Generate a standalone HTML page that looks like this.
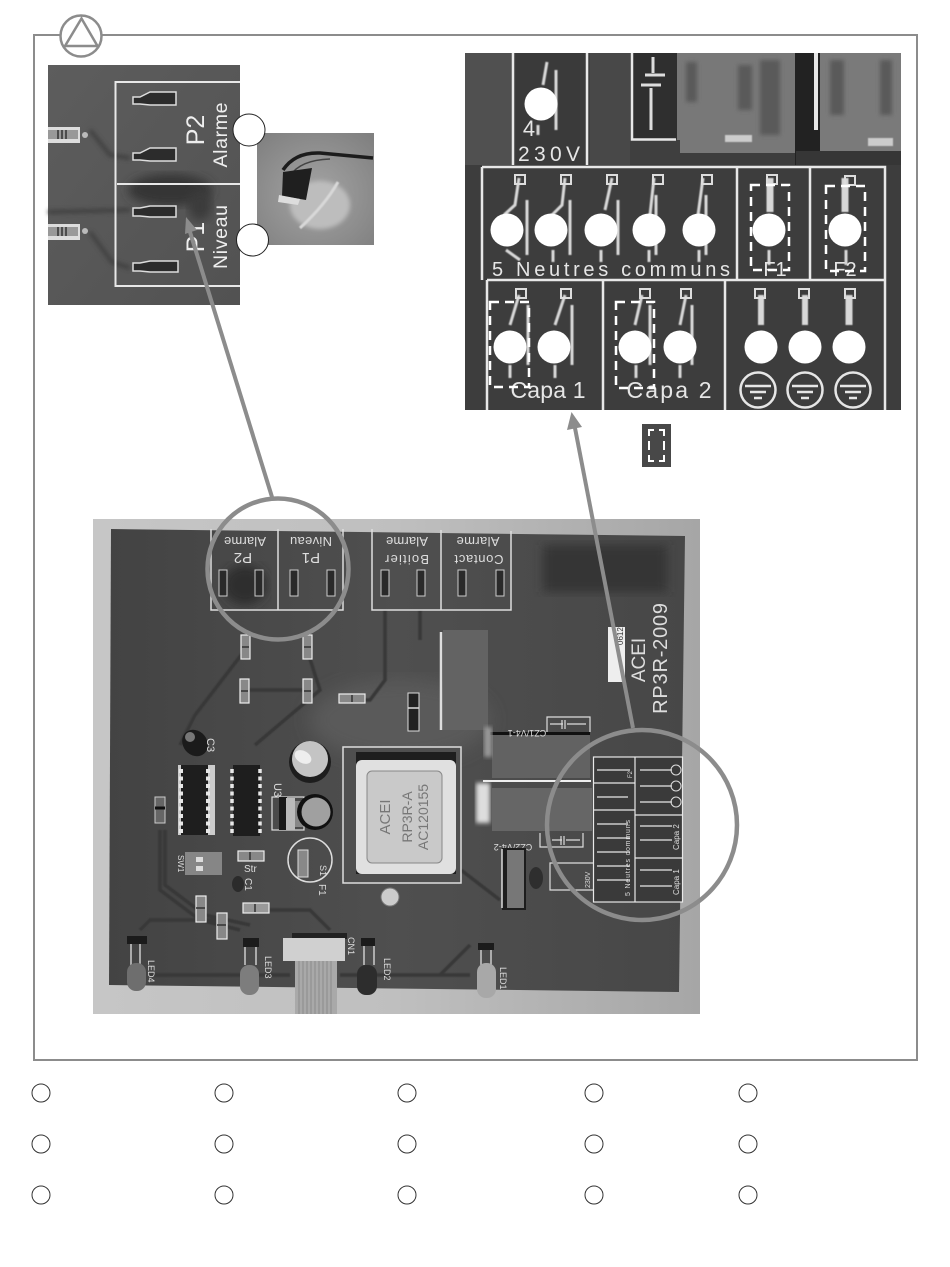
<!DOCTYPE html>
<html>
<head>
<meta charset="utf-8">
<style>
html,body{margin:0;padding:0;background:#fff}
svg{display:block}
text{font-family:"Liberation Sans",sans-serif}
</style>
</head>
<body>
<svg xmlns="http://www.w3.org/2000/svg" width="950" height="1267" viewBox="0 0 950 1267">
<defs>
<filter id="b2"><feGaussianBlur stdDeviation="2"/></filter>
<filter id="b1"><feGaussianBlur stdDeviation="0.6"/></filter>
<filter id="b5"><feGaussianBlur stdDeviation="5"/></filter>
<filter id="b9"><feGaussianBlur stdDeviation="9"/></filter>
<linearGradient id="tl" x1="0" y1="0" x2="1" y2="1"><stop offset="0" stop-color="#5d5d5d"/><stop offset="1" stop-color="#525252"/></linearGradient>
<linearGradient id="sur" x1="0" y1="0" x2="1" y2="0"><stop offset="0" stop-color="#c6c6c6"/><stop offset=".5" stop-color="#bfbfbf"/><stop offset="1" stop-color="#a6a6a6"/></linearGradient>
<linearGradient id="pcb" x1="0" y1="0" x2="1" y2="0"><stop offset="0" stop-color="#434343"/><stop offset=".5" stop-color="#4f4f4f"/><stop offset="1" stop-color="#474747"/></linearGradient>
<radialGradient id="sm" cx=".5" cy=".55" r=".7"><stop offset="0" stop-color="#a4a4a4"/><stop offset="1" stop-color="#808080"/></radialGradient>
</defs>

<!-- frame -->
<rect x="34" y="35" width="883" height="1025" fill="#fff" stroke="#8c8c8c" stroke-width="2"/>
<circle cx="81" cy="36" r="20.500" fill="#fff" stroke="#8c8c8c" stroke-width="2.500"/>
<path d="M81.500 18.500 L97.500 46 L65 46 Z" fill="none" stroke="#8c8c8c" stroke-width="2.500"/>

<!-- top-left photo -->
<rect x="48" y="65" width="192" height="240" fill="url(#tl)"/>
<g filter="url(#b2)" fill="none" stroke="#3f3f3f" stroke-width="4">
<path d="M90 130 L110 155 L130 158"/><path d="M90 232 L112 262 L130 268"/><path d="M48 212 L130 210"/>
</g>
<ellipse cx="170" cy="190" rx="42" ry="16" fill="#343434" filter="url(#b5)"/>
<ellipse cx="200" cy="205" rx="12" ry="16" fill="#3a3a3a" filter="url(#b5)"/>
<g fill="none" stroke="#e8e8e8" stroke-width="2">
<path d="M240 82 H115.500 V286 H240"/><path d="M117 184 H240"/>
</g>
<g fill="#eee" text-anchor="middle">
<text transform="translate(204,130) rotate(-90)" font-size="25">P2</text>
<text transform="translate(227,135) rotate(-90)" font-size="19.500" textLength="65" lengthAdjust="spacing">Alarme</text>
<text transform="translate(204,237) rotate(-90)" font-size="25">P1</text>
<text transform="translate(227,237) rotate(-90)" font-size="19.500" textLength="64" lengthAdjust="spacing">Niveau</text>
</g>
<g fill="#2c2c2c" stroke="#ddd" stroke-width="1.500">
<path d="M133 97 H140 L150 92 H176 V105 H150 L140 104 H133Z"/>
<path d="M133 153 H140 L150 148 H176 V161 H150 L140 160 H133Z"/>
<path d="M133 208 H140 L150 206 H176 V217 H150 L140 216 H133Z"/>
<path d="M133 263 H140 L150 261 H178 V272 H150 L140 271 H133Z"/>
</g>
<g>
<rect x="48" y="127" width="32" height="16" fill="#ddd"/><rect x="48" y="130" width="30" height="9" fill="#999"/>
<path d="M58 130v9M62 130v9M66 130v9" stroke="#333" stroke-width="1.500"/>
<circle cx="85" cy="135" r="3" fill="#bbb"/>
<rect x="48" y="224" width="32" height="16" fill="#ddd"/><rect x="48" y="227" width="30" height="9" fill="#999"/>
<path d="M58 227v9M62 227v9M66 227v9" stroke="#333" stroke-width="1.500"/>
<circle cx="85" cy="231" r="3" fill="#bbb"/>
</g>

<!-- small photo -->
<rect x="257" y="133" width="117" height="112" fill="url(#sm)"/>
<path d="M283 170 Q295 152 320 153 L373 158" fill="none" stroke="#1c1c1c" stroke-width="3.500"/>
<path d="M290 176 Q300 160 330 159" fill="none" stroke="#444" stroke-width="1.500"/>
<ellipse cx="320" cy="205" rx="30" ry="24" fill="#bdbdbd" filter="url(#b2)"/>
<path d="M300 228 Q325 205 338 182" stroke="#d8d8d8" stroke-width="3" fill="none" filter="url(#b1)"/>
<path d="M283 172 L312 168 L306 200 L282 196Z" fill="#1f1f1f"/>
<path d="M279 195 L300 199 L298 205 L278 202Z" fill="#ddd"/>
<circle cx="249" cy="130" r="16" fill="#fff" stroke="#222" stroke-width="1"/>
<circle cx="252.500" cy="240" r="16" fill="#fff" stroke="#222" stroke-width="1"/>

<!-- top-right photo -->
<rect x="465" y="53" width="436" height="357" fill="#3d3d3d"/>
<rect x="465" y="53" width="48" height="112" fill="#505050"/>
<rect x="516" y="53" width="70" height="112" fill="#3a3a3a"/>
<rect x="590" y="53" width="40" height="112" fill="#484848"/>
<rect x="632" y="53" width="46" height="86" fill="#2f2f2f"/>
<rect x="677" y="53" width="118" height="100" fill="#787878"/>
<rect x="795" y="53" width="25" height="112" fill="#222"/>
<rect x="820" y="53" width="81" height="98" fill="#7a7a7a"/>
<rect x="630" y="140" width="50" height="24" fill="#3f3f3f"/>
<rect x="796" y="151" width="105" height="14" fill="#363636"/>
<g fill="#5a5a5a" filter="url(#b2)">
<rect x="686" y="62" width="11" height="40"/><rect x="738" y="65" width="14" height="45"/><rect x="760" y="60" width="20" height="75"/>
<rect x="830" y="60" width="14" height="55"/><rect x="880" y="60" width="12" height="55"/>
</g>
<g fill="#ccc" filter="url(#b1)"><rect x="725" y="135" width="27" height="7"/><rect x="868" y="138" width="25" height="8"/></g>
<g fill="none" stroke="#e8e8e8" stroke-width="2.500">
<path d="M513 53V165M587 53V165"/>
<path d="M632 53V139.500H676"/>
<path d="M816 53V130" stroke-width="4"/>
<path d="M482 167H885V410M482 167V280M487 280H885M487 280V410"/>
<path d="M737 167V280M810 167V280M603 280V410M725 280V410"/>
</g>
<g stroke="#ddd" stroke-width="3" fill="none">
<path d="M645 75H665M641 85H661M653 57V73M651 88V130"/>
</g>
<g stroke="#d8d8d8" stroke-width="3" fill="none" filter="url(#b1)">
<path d="M547 62 L543 85 M538 125 V135 M556 130V70"/>
<path d="M519 178 L515 205 L504 215 M527 200 V255 M506 250 L520 260"/>
<path d="M565 178 L562 205 L552 215 M570 200 V255 M553 250V262"/>
<path d="M612 178 L605 210 M618 200 V255 M601 250V262"/>
<path d="M654 178 L650 215 M656 195 V255 M649 250V262"/>
<path d="M703 178 L698 215 M706 195 V255 M699 250V262"/>
<path d="M770 178 V212" stroke-width="7"/><path d="M845 178 V212" stroke-width="7"/>
<path d="M769 250V265M846 250V265"/>
<path d="M519 295 L510 325 M528 305V365 M510 365V378"/>
<path d="M565 295 L555 325 M572 305V365 M555 365V378"/>
<path d="M642 295 L635 325 M650 305V365 M636 365V378"/>
<path d="M686 295 L680 325 M692 305V365 M680 365V378"/>
<path d="M761 295 V325" stroke-width="6"/><path d="M805 295 V325" stroke-width="6"/><path d="M849 295 V325" stroke-width="7"/>
</g>
<g fill="none" stroke="#ddd" stroke-width="2">
<rect x="515" y="175" width="10" height="9"/><rect x="561" y="175" width="10" height="9"/><rect x="607" y="175" width="10" height="9"/><rect x="653" y="175" width="10" height="9"/><rect x="702" y="175" width="10" height="9"/><rect x="767" y="175" width="10" height="9"/><rect x="845" y="176" width="10" height="9"/>
<rect x="516" y="289" width="10" height="9"/><rect x="561" y="289" width="10" height="9"/><rect x="640" y="289" width="10" height="9"/><rect x="681" y="289" width="10" height="9"/><rect x="755" y="289" width="10" height="9"/><rect x="799" y="289" width="10" height="9"/><rect x="845" y="289" width="10" height="9"/>
</g>
<g fill="#e6e6e6" text-anchor="middle">
<text x="549" y="161" font-size="21" textLength="62" lengthAdjust="spacing">230V</text>
<text x="611" y="276" font-size="20" textLength="238" lengthAdjust="spacing">5 Neutres communs</text>
<text x="548" y="398" font-size="23" textLength="75" lengthAdjust="spacing">Capa 1</text>
<text x="669" y="398" font-size="23" textLength="85" lengthAdjust="spacing">Capa 2</text>
<text x="775" y="276" font-size="20">F1</text>
<text x="845" y="276" font-size="20">F2</text>
<text x="529" y="136" font-size="22">4</text>
</g>
<g fill="none" stroke="#e6e6e6" stroke-width="2.500">
<circle cx="758" cy="390" r="17.500"/><circle cx="805" cy="390" r="17.500"/><circle cx="853" cy="390" r="17.500"/>
<path d="M745 386H771M750 392H766M754 398H762M792 386H818M797 392H813M801 398H809M840 386H866M845 392H861M849 398H857"/>
</g>
<g fill="none" stroke="#fff" stroke-width="2.500" stroke-dasharray="9 6">
<rect x="751" y="185" width="38" height="85"/>
<rect x="826" y="186" width="39" height="85"/>
<rect x="490" y="302" width="39" height="85"/>
<rect x="616" y="302" width="38" height="86"/>
</g>
<g fill="#fff">
<circle cx="541" cy="104" r="16.500"/>
<circle cx="507" cy="230" r="16.500"/><circle cx="551" cy="230" r="16.500"/><circle cx="601" cy="230" r="16.500"/><circle cx="649" cy="230" r="16.500"/><circle cx="699" cy="230" r="16.500"/><circle cx="769" cy="230" r="16.500"/><circle cx="845" cy="230" r="16.500"/>
<circle cx="510" cy="347" r="16.500"/><circle cx="554" cy="347" r="16.500"/><circle cx="635" cy="347" r="16.500"/><circle cx="680" cy="347" r="16.500"/><circle cx="761" cy="347" r="16.500"/><circle cx="805" cy="347" r="16.500"/><circle cx="849" cy="347" r="16.500"/>
</g>
<!-- legend swatch -->
<rect x="642" y="424" width="29" height="43" fill="#484848"/>
<g fill="none" stroke="#fff" stroke-width="2">
<path d="M654 430H649V436M659 430H664V436M654 461H649V455M659 461H664V455M649 441V450M664 441V450"/>
</g>

<!-- main photo -->
<rect x="93" y="519" width="607" height="495" fill="url(#sur)"/>
<polygon points="111,529 685,536 679,992 109,985" fill="url(#pcb)"/>
<rect x="543" y="545" width="124" height="47" fill="#353535" filter="url(#b5)"/>
<ellipse cx="400" cy="720" rx="90" ry="40" fill="#5a5a5a" filter="url(#b9)"/>
<!-- traces -->
<g fill="none" stroke="#393939" stroke-width="3.500" filter="url(#b1)">
<path d="M245 650 L195 715 L180 745"/><path d="M307 650 L320 690 L255 745"/><path d="M385 610V680L370 700H360"/>
<path d="M160 830 L160 890 L200 920 L240 930"/><path d="M165 830 L165 885 L205 915 L250 925"/><path d="M140 930 L150 920 H220"/>
<path d="M150 975 H290"/><path d="M340 975 H470"/><path d="M470 945 L440 975"/><path d="M240 690H310"/><path d="M255 910 H310 L330 930"/>
<path d="M461 870 L500 900"/><path d="M420 610 V640"/>
</g>
<!-- terminal blocks -->
<g fill="none" stroke="#ddd" stroke-width="1.500">
<path d="M211 529V610H343V529M278 529V610M372 529V610H511V531M441 530V610"/>
</g>
<ellipse cx="245" cy="585" rx="22" ry="20" fill="#2f2f2f" filter="url(#b5)"/>
<g fill="#ddd" text-anchor="middle" font-size="13">
<text transform="translate(245,537) rotate(180)" textLength="42" lengthAdjust="spacing">Alarme</text>
<text transform="translate(243,553) rotate(180)" font-size="15">P2</text>
<text transform="translate(311,537) rotate(180)" textLength="42" lengthAdjust="spacing">Niveau</text>
<text transform="translate(311,553) rotate(180)" font-size="15">P1</text>
<text transform="translate(407,537) rotate(180)" textLength="42" lengthAdjust="spacing">Alarme</text>
<text transform="translate(407,555) rotate(180)" textLength="44" lengthAdjust="spacing">Boitier</text>
<text transform="translate(478,537) rotate(180)" textLength="43" lengthAdjust="spacing">Alarme</text>
<text transform="translate(479,555) rotate(180)" textLength="49" lengthAdjust="spacing">Contact</text>
</g>
<g fill="#2a2a2a" stroke="#ccc" stroke-width="1">
<rect x="219" y="570" width="8" height="26"/><rect x="255" y="570" width="8" height="26"/><rect x="290" y="570" width="8" height="26"/><rect x="327" y="570" width="8" height="26"/><rect x="381" y="570" width="8" height="26"/><rect x="417" y="570" width="8" height="26"/><rect x="458" y="570" width="8" height="26"/><rect x="496" y="570" width="8" height="26"/>
</g>
<!-- resistors -->
<g stroke="#eee" stroke-width="1.200" fill="#888">
<rect x="241" y="635" width="9" height="24"/><rect x="303" y="635" width="9" height="24"/>
<rect x="240" y="679" width="9" height="24"/><rect x="303" y="679" width="9" height="24"/>
<rect x="339" y="694" width="26" height="9"/>
<rect x="238" y="851" width="26" height="10"/><rect x="243" y="903" width="26" height="10" fill="#999"/>
<rect x="196" y="896" width="10" height="26"/><rect x="217" y="913" width="10" height="26"/>
</g>
<g stroke="#333" stroke-width="1.500">
<path d="M242 647h7M304 647h7M241 691h7M304 691h7M352 695v7M250 852v8M255 904v8M196 908h9M217 925h9"/>
</g>
<!-- diode -->
<rect x="408" y="693" width="11" height="38" fill="#222" stroke="#ddd" stroke-width="1"/>
<path d="M408 708h11" stroke="#ddd" stroke-width="1.500"/>
<!-- C3 -->
<ellipse cx="195" cy="743" rx="12" ry="14" fill="#1b1b1b" transform="rotate(-40 195 743)"/>
<ellipse cx="190" cy="737" rx="5" ry="5" fill="#777"/>
<text transform="translate(207,738) rotate(90)" fill="#ddd" font-size="11">C3</text>
<!-- ICs -->
<rect x="178" y="765" width="37" height="70" fill="#ccc"/>
<rect x="181" y="765" width="27" height="70" fill="#1e1e1e"/>
<path d="M181 769V833M208 769V833" stroke="#e8e8e8" stroke-width="4" stroke-dasharray="4 3.500"/>
<rect x="233" y="765" width="27" height="71" fill="#1e1e1e"/>
<path d="M232 769V833M260 769V833" stroke="#e8e8e8" stroke-width="3.500" stroke-dasharray="4 3.500"/>
<!-- left diode -->
<rect x="155" y="797" width="10" height="26" fill="#666" stroke="#ccc" stroke-width="1"/>
<path d="M155 808h10" stroke="#111" stroke-width="3"/>
<!-- cap -->
<circle cx="310" cy="762" r="21" fill="#1d1d1d"/>
<circle cx="310" cy="759" r="18" fill="#c4c4c4"/>
<ellipse cx="303" cy="757" rx="9" ry="6" fill="#eee" transform="rotate(30 303 757)"/>
<!-- U3 -->
<rect x="272" y="797" width="32" height="33" fill="none" stroke="#ddd" stroke-width="1.200"/>
<rect x="279" y="797" width="8" height="33" fill="#1a1a1a"/>
<rect x="286" y="798" width="9" height="32" fill="#bbb"/>
<rect x="295" y="801" width="8" height="26" fill="#888"/>
<circle cx="315" cy="812" r="18" fill="#111"/>
<circle cx="316" cy="812" r="14.500" fill="#a0a0a0"/>
<text transform="translate(274,783) rotate(90)" fill="#ddd" font-size="11">U3</text>
<!-- SW -->
<rect x="185" y="852" width="37" height="23" fill="#868686"/>
<rect x="196" y="857" width="7" height="5" fill="#ddd"/><rect x="196" y="866" width="7" height="5" fill="#ddd"/>
<text transform="translate(178,855) rotate(90)" fill="#ddd" font-size="8">SW1</text>
<text x="244" y="872" fill="#ddd" font-size="10">Str</text>
<!-- fuse -->
<circle cx="310" cy="860" r="22" fill="none" stroke="#ddd" stroke-width="1.500"/>
<rect x="298" y="850" width="10" height="27" fill="#888" stroke="#ddd" stroke-width="1"/>
<text transform="translate(320,865) rotate(90)" fill="#ddd" font-size="9">S1</text>
<text transform="translate(319,884) rotate(90)" fill="#ddd" font-size="10">F1</text>
<!-- C1 -->
<ellipse cx="238" cy="884" rx="6" ry="8" fill="#2b2b2b"/>
<text transform="translate(245,878) rotate(90)" fill="#ddd" font-size="10">C1</text>
<circle cx="390" cy="897" r="9" fill="#ccc" stroke="#777"/>
<!-- transformer -->
<rect x="343" y="747" width="118" height="136" fill="#4f4f4f" stroke="#ddd" stroke-width="1.500"/>
<rect x="356" y="752" width="100" height="122" fill="#1e1e1e"/>
<rect x="356" y="760" width="100" height="114" rx="6" fill="#e0e0e0"/>
<rect x="367" y="771" width="75" height="92" rx="5" fill="#c9c9c9" stroke="#888"/>
<g fill="#777" text-anchor="middle" font-size="15">
<text transform="translate(390,817) rotate(-90)">ACEI</text>
<text transform="translate(412,817) rotate(-90)" font-size="14">RP3R-A</text>
<text transform="translate(428,817) rotate(-90)" font-size="14">AC120155</text>
</g>
<!-- relays -->
<rect x="443" y="630" width="45" height="100" fill="#636363"/>
<path d="M441 632V730" stroke="#ddd" stroke-width="2.500"/>
<rect x="492" y="733" width="98" height="45" fill="#626262"/>
<rect x="490" y="732" width="100" height="3" fill="#111"/>
<rect x="483" y="780" width="108" height="2" fill="#eee"/>
<rect x="492" y="788" width="100" height="43" fill="#666"/>
<rect x="476" y="783" width="14" height="40" fill="#ddd" filter="url(#b2)"/>
<rect x="484" y="727" width="8" height="30" fill="#999" filter="url(#b2)"/>
<g fill="none" stroke="#ddd" stroke-width="1.200">
<path d="M547 732V717H590V732M540 833V847H583V833"/>
<path d="M550 724H563M567 724H586M552 840H562M566 840H580M565 720V729M562 720V729M564 836V845M561 836V845"/>
</g>
<g fill="#ddd" text-anchor="middle" font-size="9">
<text transform="translate(527,730) rotate(180)">CZ1/V4-1</text>
<text transform="translate(513,844) rotate(180)">CZ2/V4-2</text>
</g>
<!-- regulator -->
<rect x="502" y="848" width="24" height="62" fill="#1d1d1d"/>
<rect x="507" y="850" width="17" height="58" fill="#777"/>
<path d="M502 849V908" stroke="#ddd" stroke-width="1.500"/>
<ellipse cx="536" cy="878" rx="7" ry="11" fill="#2e2e2e"/>
<!-- small power box -->
<path d="M593 863H550V890H593" fill="none" stroke="#ddd" stroke-width="1.200"/>
<text transform="translate(590,888) rotate(-90)" fill="#ddd" font-size="7">230V</text>
<!-- terminal grid -->
<rect x="593" y="757" width="90" height="145" fill="#3a3a3a"/>
<g fill="none" stroke="#e8e8e8" stroke-width="1.200">
<rect x="593.500" y="757" width="89" height="145"/>
<path d="M635 757V902M635 815H683M635 858H683M594 783H635M594 810H635"/>
<path d="M597 770H630M597 797H628M597 824H628M597 838H630M597 852H630M597 866H630M597 880H630M640 770H672M640 786H672M640 802H672M640 826H672M640 840H672M640 870H672M640 886H672"/>
</g>
<g fill="none" stroke="#ddd"><circle cx="676" cy="770" r="5"/><circle cx="676" cy="786" r="5"/><circle cx="676" cy="802" r="5"/></g>
<text transform="translate(630,896) rotate(-90)" fill="#ddd" font-size="7" textLength="76" lengthAdjust="spacing">5 Neutres communs</text>
<text transform="translate(679,850) rotate(-90)" fill="#ddd" font-size="8">Capa 2</text>
<text transform="translate(679,895) rotate(-90)" fill="#ddd" font-size="8">Capa 1</text>
<text transform="translate(632,778) rotate(-90)" fill="#ddd" font-size="6">F2</text>
<!-- sticker + brand -->
<rect x="608" y="627" width="17" height="55" fill="#eee"/>
<text transform="translate(623,645) rotate(-90)" fill="#333" font-size="8">0612</text>
<g fill="#ddd" text-anchor="middle">
<text transform="translate(645,660) rotate(-90)" font-size="19">ACEI</text>
<text transform="translate(667,658) rotate(-90)" font-size="20" letter-spacing=".8">RP3R-2009</text>
</g>
<!-- LEDs -->
<g stroke="#ccc" stroke-width="1.500">
<path d="M131 942V965M140 942V965M245 944V965M256 944V965M364 943V965M374 943V965M481 948V965M491 948V965"/>
</g>
<g fill="#1b1b1b">
<rect x="127" y="936" width="20" height="8"/><rect x="243" y="938" width="16" height="9"/><rect x="361" y="938" width="14" height="8"/><rect x="478" y="943" width="16" height="7"/>
</g>
<rect x="127" y="963" width="19" height="28" rx="9" fill="#6e6e6e"/>
<rect x="240" y="965" width="19" height="30" rx="9" fill="#7d7d7d"/>
<rect x="357" y="965" width="20" height="30" rx="9" fill="#2d2d2d"/>
<rect x="477" y="963" width="19" height="35" rx="9" fill="#a8a8a8"/>
<g fill="#ddd" font-size="9">
<text transform="translate(148,960) rotate(90)">LED4</text>
<text transform="translate(265,956) rotate(90)">LED3</text>
<text transform="translate(384,958) rotate(90)">LED2</text>
<text transform="translate(500,967) rotate(90)">LED1</text>
<text transform="translate(348,937) rotate(90)">CN1</text>
</g>
<!-- connector & ribbon -->
<rect x="292" y="933" width="55" height="6" fill="#222"/>
<rect x="283" y="938" width="62" height="23" fill="#d0d0d0"/>
<rect x="295" y="961" width="42" height="53" fill="#a9a9a9"/>
<path d="M299 961V1014M303 961V1014M307 961V1014M311 961V1014M315 961V1014M319 961V1014M323 961V1014M327 961V1014M331 961V1014" stroke="#8a8a8a" stroke-width="1"/>

<!-- grey pointers -->
<g fill="none" stroke="#8c8c8c">
<circle cx="278" cy="569" r="70.500" stroke-width="4.500"/>
<circle cx="642" cy="825" r="95" stroke-width="4.500"/>
<path d="M272 497 L190 232" stroke-width="4"/>
<path d="M633 728 L575 428" stroke-width="4"/>
</g>
<path d="M186 217 L197 230 L185 234 Z" fill="#8c8c8c"/>
<path d="M571.500 412 L582 427 L567 430 Z" fill="#8c8c8c"/>

<!-- legend -->
<g fill="#fff" stroke="#333" stroke-width="1">
<circle cx="41" cy="1093" r="9"/><circle cx="224" cy="1093" r="9"/><circle cx="407" cy="1093" r="9"/><circle cx="594" cy="1093" r="9"/><circle cx="748" cy="1093" r="9"/>
<circle cx="41" cy="1144" r="9"/><circle cx="224" cy="1144" r="9"/><circle cx="407" cy="1144" r="9"/><circle cx="594" cy="1144" r="9"/><circle cx="748" cy="1144" r="9"/>
<circle cx="41" cy="1195" r="9"/><circle cx="224" cy="1195" r="9"/><circle cx="407" cy="1195" r="9"/><circle cx="594" cy="1195" r="9"/><circle cx="748" cy="1195" r="9"/>
</g>
</svg>
</body>
</html>
